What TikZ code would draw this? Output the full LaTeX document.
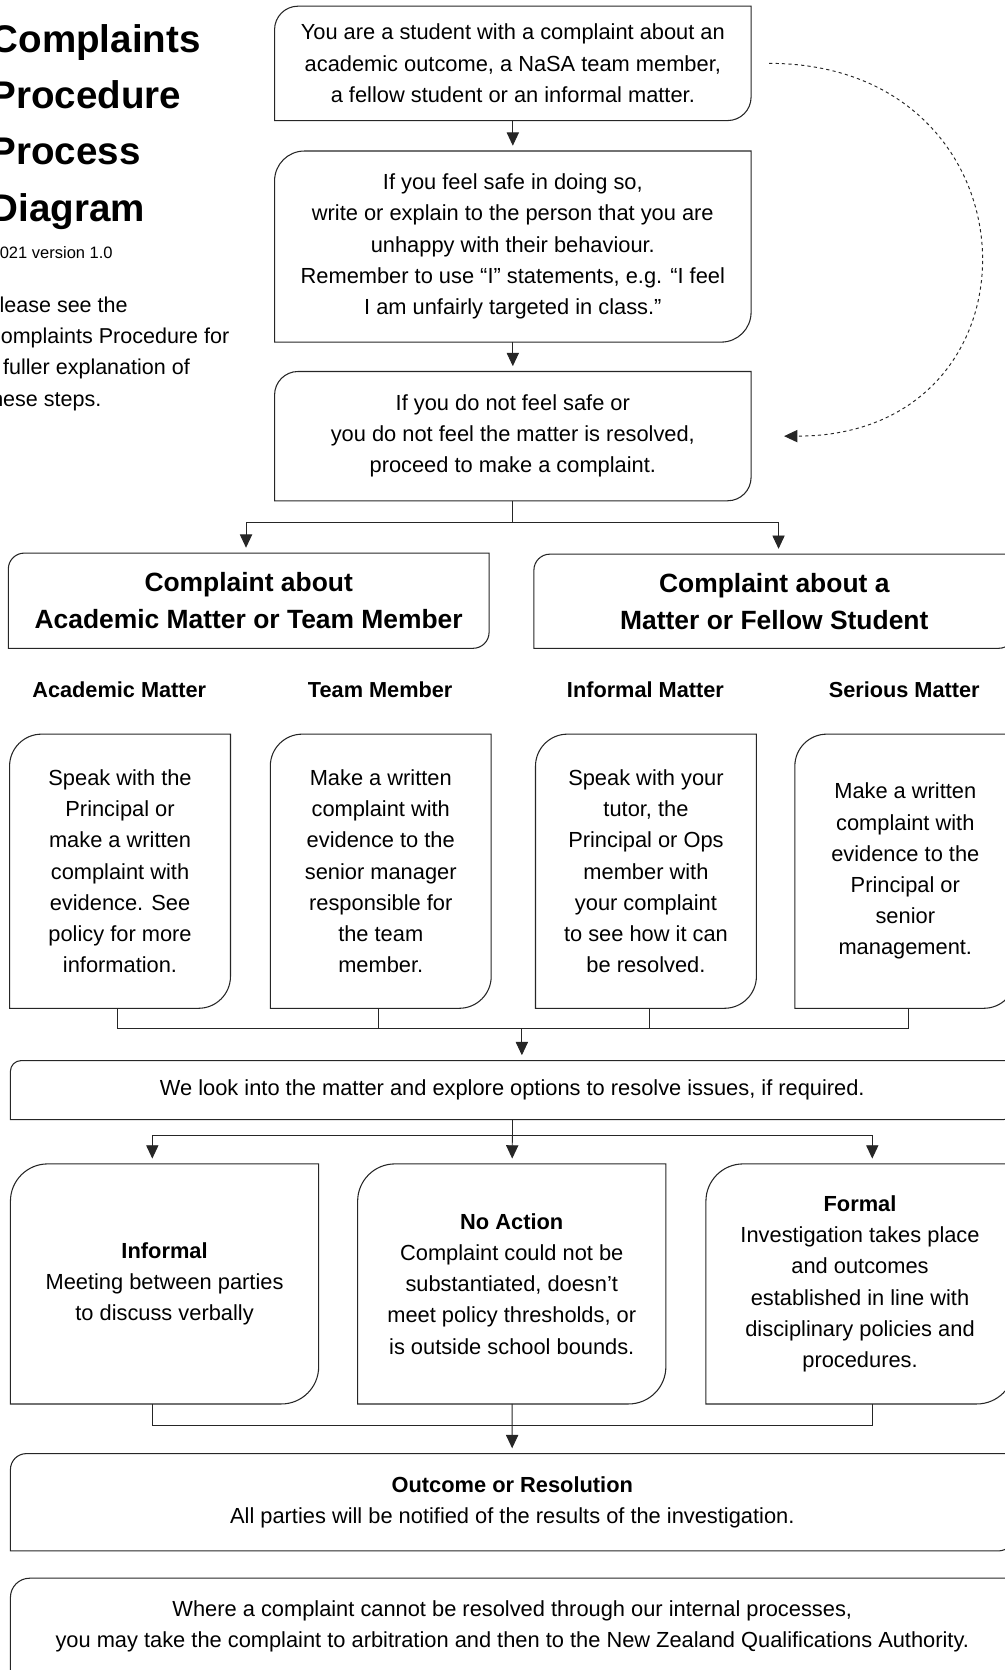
\documentclass[tikz,border=0pt]{standalone}
\usepackage{fontspec}
\setmainfont{Liberation Sans}
\usetikzlibrary{arrows.meta}

% outline with round top-left and bottom-right corners
\newcommand{\boxoutline}[2]{%
  \draw[boxline] (#1.south west) -- ([yshift=-#2]#1.north west)
    arc[start angle=180, end angle=90, radius=#2] -- (#1.north east)
    -- ([yshift=#2]#1.south east) arc[start angle=0, end angle=-90, radius=#2] -- cycle;
}

\begin{document}
\begin{tikzpicture}[x=1pt, y=-1pt, % one unit is one pixel, y runs down
    body/.style={font=\fontsize{20.5pt}{29.3pt}\selectfont, align=center, inner sep=0pt},
    head/.style={font=\fontsize{24.8pt}{35pt}\selectfont\bfseries, align=center, inner sep=0pt},
    subhead/.style={font=\fontsize{20.4pt}{24pt}\selectfont\bfseries, inner sep=0pt},
    titletext/.style={font=\fontsize{36.2pt}{42pt}\selectfont\bfseries, inner sep=0pt},
    boxline/.style={draw=black!85, line width=1pt},
    link/.style={draw=black!85, line width=0.9pt},
    arr/.style={link, -{Triangle[length=12.5pt, width=11.5pt]}, shorten >=5pt}]

    % sheet size
    \useasboundingbox (0,0) rectangle (943,1568);

    % title and note on the left
    \foreach \word [count=\i] in {Complaints, Procedure, Process, Diagram}
        \node[titletext, anchor=base west] (title\i) at (-9,{49.5+52.7*(\i-1)}) {\word};
    \node[body, font=\fontsize{15.5pt}{18pt}\selectfont, anchor=base west] (version) at (-9,242.5) {2021 version 1.0};
    \foreach \txt [count=\i] in {Please see the, Complaints Procedure for, a fuller explanation of, these steps.}
        \node[body, font=\fontsize{20.2pt}{29.3pt}\selectfont, anchor=base west] (note\i) at (-14,{293+29.5*(\i-1)}) {\txt};

    % first steps
    \node[body, minimum width=447pt, minimum height=107pt] (start) at (481.5,59.5)
        {You are a student with a complaint about an\\ academic outcome, a NaSA team member,\\ a fellow student or an informal matter.};
    \boxoutline{start}{22pt}
    \node[body, minimum width=447pt, minimum height=179pt] (speak) at (481.5,231.5)
        {If you feel safe in doing so,\\ write or explain to the person that you are\\ unhappy with their behaviour.\\ Remember to use “I” statements, e.g. “I feel\\ I am unfairly targeted in class.”};
    \boxoutline{speak}{28pt}
    \node[body, minimum width=447pt, minimum height=121pt] (notsafe) at (481.5,409.5)
        {If you do not feel safe or\\ you do not feel the matter is resolved,\\ proceed to make a complaint.};
    \boxoutline{notsafe}{22pt}

    \draw[arr] (start) -- (speak);
    \draw[arr] (speak) -- (notsafe);
    \draw[arr, dashed] ([xshift=17pt]start.east) .. controls +(258,0) and +(258,0) .. ([xshift=26pt]notsafe.east);

    % two kinds of complaint
    \node[head, minimum width=451pt, minimum height=89pt] (acad) at (233.5,564)
        {Complaint about\\ Academic Matter or Team Member};
    \boxoutline{acad}{15pt}
    \node[head, minimum width=451pt, minimum height=88pt] (fellow) at (727,564.5)
        {Complaint about a\\ Matter or Fellow Student};
    \boxoutline{fellow}{15pt}

    \draw[link] (notsafe.south) -- ++(0,20) coordinate (split1);
    \draw[arr] (split1) -| ([xshift=-2.5pt]acad.north);
    \draw[arr] (split1) -| ([xshift=4pt]fellow.north);

    % four matters
    \node[subhead] (subacad) at (112,648) {Academic Matter};
    \node[subhead] (subteam) at (357,648) {Team Member};
    \node[subhead] (subinformal) at (606,648) {Informal Matter};
    \node[subhead] (subserious) at (849,648) {Serious Matter};

    \node[body, minimum width=207pt, minimum height=257pt] (acadbox) at (112.7,818)
        {Speak with the\\ Principal or\\ make a written\\ complaint with\\ evidence. See\\ policy for more\\ information.};
    \boxoutline{acadbox}{30pt}
    \node[body, minimum width=207pt, minimum height=257pt] (teambox) at (357.5,818)
        {Make a written\\ complaint with\\ evidence to the\\ senior manager\\ responsible for\\ the team\\ member.};
    \boxoutline{teambox}{30pt}
    \node[body, minimum width=207pt, minimum height=257pt] (informalbox) at (606.5,818)
        {Speak with your\\ tutor, the\\ Principal or Ops\\ member with\\ your complaint\\ to see how it can\\ be resolved.};
    \boxoutline{informalbox}{30pt}
    \node[body, minimum width=207pt, minimum height=257pt] (seriousbox) at (850,818)
        {Make a written\\ complaint with\\ evidence to the\\ Principal or\\ senior\\ management.};
    \boxoutline{seriousbox}{30pt}

    % join into one step
    \coordinate (join1) at (490,965.5);
    \draw[link] ([xshift=-2.7pt]acadbox.south) |- (join1) -| ([xshift=3pt]seriousbox.south);
    \draw[link] ([xshift=-2.5pt]teambox.south) -- ([xshift=-2.5pt]teambox.south |- join1);
    \draw[link] ([xshift=3pt]informalbox.south) -- ([xshift=3pt]informalbox.south |- join1);

    \node[body, minimum width=942pt, minimum height=55pt] (look) at (481,1023.5)
        {We look into the matter and explore options to resolve issues, if required.};
    \boxoutline{look}{10pt}
    \draw[arr] (join1) -- (join1 |- look.north);

    % three ways forward
    \node[body, minimum width=289pt, minimum height=225pt] (informal) at (154.5,1205.5)
        {\textbf{Informal}\\ Meeting between parties\\ to discuss verbally};
    \boxoutline{informal}{35pt}
    \node[body, minimum width=289pt, minimum height=225pt] (noaction) at (480.5,1205.5)
        {\textbf{No Action}\\ Complaint could not be\\ substantiated, doesn’t\\ meet policy thresholds, or\\ is outside school bounds.};
    \boxoutline{noaction}{35pt}
    \node[body, minimum width=289pt, minimum height=225pt] (formal) at (807.5,1205.5)
        {\textbf{Formal}\\ Investigation takes place\\ and outcomes\\ established in line with\\ disciplinary policies and\\ procedures.};
    \boxoutline{formal}{35pt}

    \draw[link] (look.south) -- ++(0,15) coordinate (split2);
    \draw[arr] (split2) -| ([xshift=-11.5pt]informal.north);
    \draw[arr] (split2) -- (noaction);
    \draw[arr] (split2) -| ([xshift=11.5pt]formal.north);

    % outcome
    \node[body, minimum width=942pt, minimum height=91pt] (outcome) at (481,1410.5)
        {\textbf{Outcome or Resolution}\\ All parties will be notified of the results of the investigation.};
    \boxoutline{outcome}{15pt}
    \coordinate (join2) at (480.5,1338);
    \draw[link] ([xshift=-11.5pt]informal.south) |- (join2) -| ([xshift=11.5pt]formal.south);
    \draw[arr] (noaction) -- (outcome);

    % outside the school
    \node[body, minimum width=942pt, minimum height=90pt] (final) at (481,1527)
        {Where a complaint cannot be resolved through our internal processes,\\ you may take the complaint to arbitration and then to the New Zealand Qualifications Authority.};
    \boxoutline{final}{18pt}
\end{tikzpicture}
\end{document}
